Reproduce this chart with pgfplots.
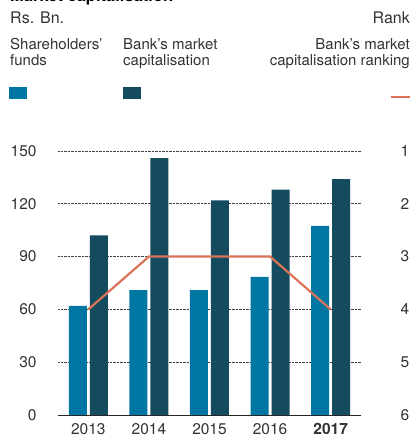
\documentclass[border=0pt]{standalone}
\usepackage{pgfplots}
\pgfplotsset{compat=1.18}
\usepackage{fontspec}
\setmainfont{TeX Gyre Heros}

\definecolor{sfblue}{HTML}{0077A3}
\definecolor{mcnavy}{HTML}{154B5E}
\definecolor{rankline}{HTML}{DA7358}
\definecolor{txt}{HTML}{333333}

\begin{document}
\begin{tikzpicture}[font=\fontsize{15}{17}\selectfont]
\path[use as bounding box, clip] (-58pt,-23pt) rectangle (353pt,415pt);

% header and legend (drawn by hand, as in the reference layout)
\node[anchor=base west, inner sep=0pt, font=\fontsize{16.5}{18}\selectfont\bfseries] at (-48pt,413.5pt) {Market capitalisation};
\node[anchor=base west, inner sep=0pt, text=txt, font=\fontsize{16}{18}\selectfont] at (-48pt,391.7pt) {Rs. Bn.};
\node[anchor=base east, inner sep=0pt, text=txt, font=\fontsize{16}{18}\selectfont] at (352pt,391.7pt) {Rank};
\node[anchor=base west, inner sep=0pt, text=txt] at (-48pt,365pt) {Shareholders'};
\node[anchor=base west, inner sep=0pt, text=txt] at (-48pt,349pt) {funds};
\node[anchor=base west, inner sep=0pt, text=txt] at (65pt,365pt) {Bank's market};
\node[anchor=base west, inner sep=0pt, text=txt] at (65pt,349pt) {capitalisation};
\node[anchor=base east, inner sep=0pt, text=txt] at (352pt,365pt) {Bank's market};
\node[anchor=base east, inner sep=0pt, text=txt] at (352pt,349pt) {capitalisation ranking};
\fill[sfblue] (-49pt,316pt) rectangle (-31pt,328pt);
\fill[mcnavy] (65pt,316pt) rectangle (83pt,328pt);
\draw[rankline, line width=2.2pt] (333pt,318.3pt) -- (352pt,318.3pt);

\begin{axis}[
  scale only axis, width=303pt, height=264pt,
  xmin=-0.5, xmax=4.5, ymin=0, ymax=150,
  axis x line*=bottom, axis y line*=left,
  x axis line style={draw=black!85, line width=0.9pt, -},
  y axis line style={draw=none},
  major tick length=0pt,
  xtick={0,...,4}, xticklabels={2013,2014,2015,2016,\textbf{2017}},
  ytick={0,30,...,150},
  ymajorgrids, major grid style={black!75, densely dotted, line width=0.6pt},
  /pgf/number format/assume math mode=true,
  tick label style={text=txt, font=\fontsize{15.5}{17}\selectfont},
  xticklabel style={anchor=north, inner sep=0pt, yshift=-8pt},
  yticklabel style={anchor=east, inner sep=0pt, xshift=-21.3pt},
]
\addplot[ybar, bar width=18pt, bar shift=-10.5pt, fill=sfblue, draw=none]
  coordinates {(0,62)(1,71)(2,71)(3,78.5)(4,107.5)};
\addplot[ybar, bar width=18pt, bar shift=10.5pt, fill=mcnavy, draw=none]
  coordinates {(0,102)(1,146)(2,122)(3,128)(4,134)};
\end{axis}

\begin{axis}[
  scale only axis, width=303pt, height=264pt,
  xmin=-0.5, xmax=4.5, ymin=1, ymax=6, y dir=reverse,
  axis x line=none, axis y line*=right,
  y axis line style={draw=none},
  major tick length=0pt,
  ytick={1,...,6},
  /pgf/number format/assume math mode=true,
  tick label style={text=txt, font=\fontsize{15.5}{17}\selectfont},
  yticklabel style={anchor=east, inner sep=0pt, xshift=48.5pt},
]
\addplot[rankline, line width=2.2pt, mark=none]
  coordinates {(0,4)(1,3)(2,3)(3,3)(4,4)};
\end{axis}
\end{tikzpicture}
\end{document}
